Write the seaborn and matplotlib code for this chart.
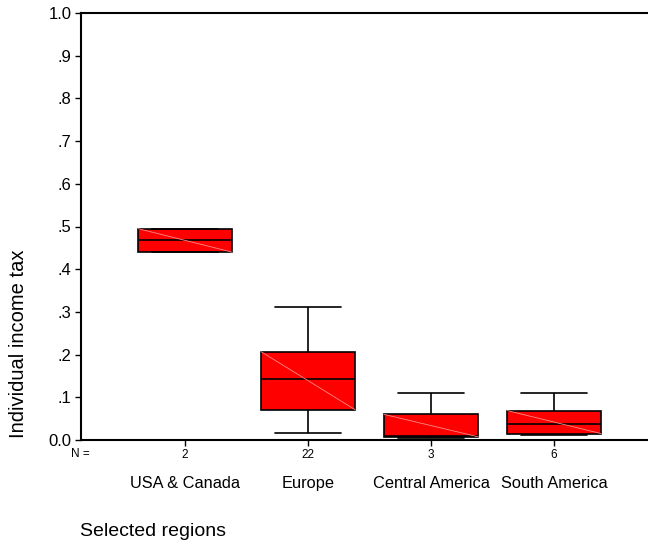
import matplotlib
matplotlib.use("Agg")
import matplotlib.pyplot as plt
import pandas as pd
import seaborn as sns

# Regions and the box-plot summary for each (income tax share)
regions = ["USA & Canada", "Europe", "Central America", "South America"]
n_cases = [2, 22, 3, 6]
whisker_low = [0.440, 0.016, 0.005, 0.012]
quartile_1 = [0.440, 0.071, 0.0075, 0.015]
median = [0.4675, 0.144, 0.010, 0.037]
quartile_3 = [0.495, 0.207, 0.060, 0.069]
whisker_high = [0.495, 0.312, 0.110, 0.110]

y_ticks = [0.0, 0.1, 0.2, 0.3, 0.4, 0.5, 0.6, 0.7, 0.8, 0.9, 1.0]
y_tick_labels = ["0.0", ".1", ".2", ".3", ".4", ".5", ".6", ".7", ".8", ".9", "1.0"]

# Long-form table: the five summary points per region reproduce the box exactly
rows = []
for i, reg in enumerate(regions):
    for v in (whisker_low[i], quartile_1[i], median[i], quartile_3[i], whisker_high[i]):
        rows.append({"region": reg, "tax": v})
df = pd.DataFrame(rows)

sns.set_style("ticks")
plt.rcParams["font.family"] = ["Liberation Sans", "DejaVu Sans"]
plt.rcParams.update({
    "text.color": "black",
    "axes.labelcolor": "black",
    "xtick.color": "black",
    "ytick.color": "black",
})

fig = plt.figure(figsize=(6.48, 5.44), dpi=100)
ax = fig.add_axes([81 / 648, 104 / 544, 1 - 81 / 648, 427 / 544])

sns.boxplot(
    data=df, x="region", y="tax", order=regions, ax=ax,
    color="#ff0000", saturation=1, width=0.765, whis=(0, 100),
    linecolor="black", linewidth=1.2, fliersize=0, capwidths=0.54,
)

# Thin diagonal across each box, corner to corner
for patch in list(ax.patches):
    verts = patch.get_path().vertices
    x0, x1 = verts[:, 0].min(), verts[:, 0].max()
    y0, y1 = verts[:, 1].min(), verts[:, 1].max()
    ax.plot([x0, x1], [y1, y0], color="#ff8a8a", lw=0.6, zorder=patch.get_zorder() + 0.1)

ax.set_ylim(0, 1.0)
ax.set_xlim(-0.846, 3.764)
ax.set_yticks(y_ticks)
ax.set_yticklabels(y_tick_labels)
ax.tick_params(axis="y", length=4, width=1, pad=3, labelsize=12)
ax.tick_params(axis="x", length=4, width=1, pad=22, labelsize=11.8)

for side in ("left", "top", "bottom"):
    ax.spines[side].set_visible(True)
    ax.spines[side].set_linewidth(1.5)
    ax.spines[side].set_color("black")
ax.spines["right"].set_visible(False)

# Case counts under each box
for i, n in enumerate(n_cases):
    ax.annotate(str(n), xy=(i, 0), xycoords=("data", "axes fraction"),
                xytext=(0, -11), textcoords="offset points",
                ha="center", va="center", fontsize=8.5)
ax.annotate("N =", xy=(0, 0), xycoords="axes fraction",
            xytext=(6, -10), textcoords="offset points",
            ha="right", va="center", fontsize=8.5)

ax.set_xlabel("")
ax.set_ylabel("Individual income tax", fontsize=14.5)
ax.yaxis.set_label_coords(-0.093, 0.225)
fig.text(80 / 648, 1 - 531 / 544, "Selected regions", fontsize=14,
         ha="left", va="center")

fig.savefig("out.png", dpi=100)
